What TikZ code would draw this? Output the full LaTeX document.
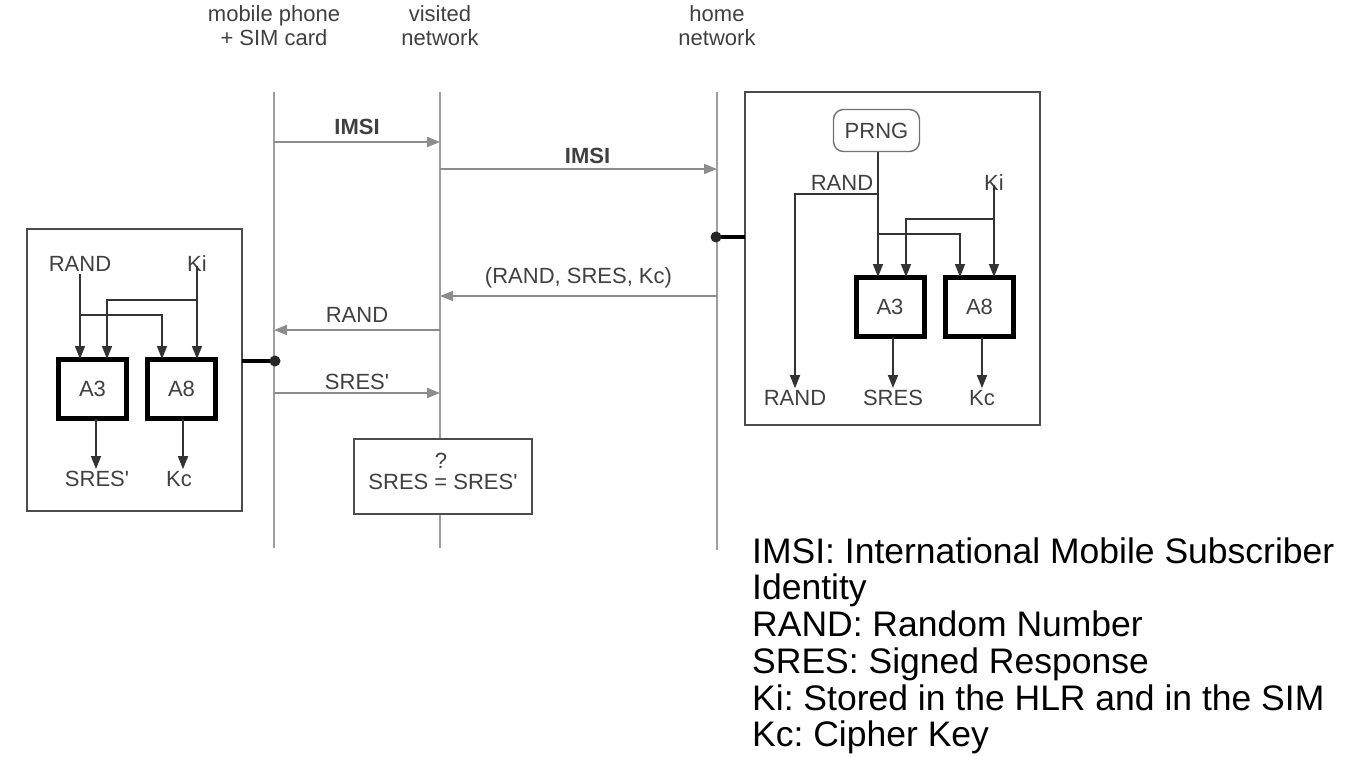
\documentclass[tikz,border=0pt]{standalone}
\usepackage{fontspec}
\setmainfont{Liberation Sans}
\usetikzlibrary{arrows.meta,positioning}

\definecolor{lifegray}{gray}{0.62}
\definecolor{msggray}{gray}{0.55}
\definecolor{boxgray}{gray}{0.3}
\definecolor{txtgray}{gray}{0.25}

\tikzset{
  lbl/.style={font=\fontsize{22}{24}\selectfont, text=txtgray, inner sep=2pt},
  legend/.style={font=\fontsize{35.5}{36.7}\selectfont, text=black, anchor=base west, inner sep=0pt},
  life/.style={draw=lifegray, line width=2pt},
  msg/.style={draw=msggray, line width=2pt, -{Triangle[length=13pt,width=10pt]}},
  arr/.style={draw=black!80, line width=1.6pt, -{Triangle[length=13pt,width=10pt]}},
  algo/.style={draw=black, line width=5pt, minimum width=68pt, minimum height=59pt, lbl},
  frame/.style={draw=boxgray, line width=2.2pt},
  link/.style={draw=black, line width=4pt},
}

\begin{document}
\frenchspacing
\begin{tikzpicture}[x=1pt,y=-1pt]
  \useasboundingbox (0,0) rectangle (1350,757);

  %%%%% lifelines %%%%%
  \node[lbl, align=center] (mobT) at (274,26) {mobile phone\\+ SIM card};
  \node[lbl, align=center] (visT) at (440,26) {visited\\network};
  \node[lbl, align=center] (homT) at (717,26) {home\\network};

  \coordinate (mob) at (274,92);  \coordinate (mobE) at (274,548);
  \coordinate (vis) at (440,92);  \coordinate (visE) at (440,548);
  \coordinate (hom) at (717,92);  \coordinate (homE) at (717,550);
  \draw[life] (mob) -- (mobE);
  \draw[life] (vis) -- (visE);
  \draw[life] (hom) -- (homE);

  %%%%% messages %%%%%
  \coordinate (m1a) at (274,142); \coordinate (m1b) at (440,142);
  \coordinate (m2a) at (440,169); \coordinate (m2b) at (717,169);
  \coordinate (m3a) at (717,296); \coordinate (m3b) at (440,296);
  \coordinate (m4a) at (440,330); \coordinate (m4b) at (274,330);
  \coordinate (m5a) at (274,393); \coordinate (m5b) at (440,393);

  \draw[msg] (m1a) -- node[lbl, font=\fontsize{22}{24}\selectfont\bfseries, above=4pt] (imsi1) {IMSI} (m1b);
  \draw[msg] (m2a) -- node[lbl, font=\fontsize{22}{24}\selectfont\bfseries, above=2pt, xshift=9pt] (imsi2) {IMSI} (m2b);
  \draw[msg] (m3a) -- node[lbl, above=5pt] (triple) {(RAND, SRES, Kc)} (m3b);
  \draw[msg] (m4a) -- node[lbl, above=5pt] (rand) {RAND} (m4b);
  \draw[msg] (m5a) -- node[lbl, above=0pt] (sres) {SRES\textquotesingle} (m5b);

  \node[draw=boxgray, line width=2pt, fill=white, minimum width=178pt, minimum height=75pt, lbl,
        text height=32pt, text depth=5pt]
    (cmp) at (443,476) {SRES \ooalign{\hfil=\hfil\cr\hfil\raisebox{21pt}{?}\hfil\cr} SRES\textquotesingle};

  %%%%% mobile phone + SIM %%%%%
  \draw[frame] (27,229) rectangle (242,511);
  \node[lbl] (randL) at (80,264) {RAND};
  \node[lbl] (kiL) at (197,264) {Ki};
  \node[algo] (a3L) at (92.5,389) {A3};
  \node[algo] (a8L) at (181.5,389) {A8};

  \coordinate (a3Lin1) at ([xshift=-12.5pt, yshift=-2pt]a3L.north);
  \coordinate (a3Lin2) at ([xshift=14.5pt, yshift=-2pt]a3L.north);
  \coordinate (a8Lin1) at ([xshift=-19.5pt, yshift=-2pt]a8L.north);
  \coordinate (a8Lin2) at ([xshift=15.5pt, yshift=-2pt]a8L.north);
  \coordinate (rSplitL) at (80,315);
  \coordinate (kSplitL) at (197,300);

  \draw[arr] (randL.south) -- (a3Lin1);
  \draw[arr] (rSplitL) -| (a8Lin1);
  \draw[arr] ([yshift=8pt]kiL.south) -- (a8Lin2);
  \draw[arr] (kSplitL) -| (a3Lin2);

  \node[lbl] (sresL) at (97,479) {SRES\textquotesingle};
  \node[lbl] (kcL) at (179,479) {Kc};
  \draw[arr] ([xshift=3.5pt, yshift=2pt]a3L.south) -- ([xshift=3.5pt]a3L.south |- sresL.north);
  \draw[arr] ([xshift=1.5pt, yshift=2pt]a8L.south) -- ([xshift=1.5pt]a8L.south |- kcL.north);

  \coordinate (simR) at (242,361);
  \coordinate (simDot) at (275,361);
  \draw[link] (simR) -- (simDot);
  \fill[black!85] (simDot) circle (5.5);

  %%%%% home network (AuC) %%%%%
  \draw[frame] (745,92) rectangle (1040,425);
  \node[draw=black!55, line width=1.4pt, rounded corners=10pt, minimum width=86pt, minimum height=42pt, lbl]
    (prng) at (876.5,130.5) {PRNG};
  \node[lbl] (randH) at (842,183) {RAND};
  \node[lbl] (kiH) at (994,183) {Ki};
  \node[algo] (a3H) at (890,307) {A3};
  \node[algo] (a8H) at (979.5,307) {A8};

  \coordinate (a3Hin1) at ([xshift=-12pt, yshift=-2pt]a3H.north);
  \coordinate (a3Hin2) at ([xshift=16pt, yshift=-2pt]a3H.north);
  \coordinate (a8Hin1) at ([xshift=-19.5pt, yshift=-2pt]a8H.north);
  \coordinate (a8Hin2) at ([xshift=14.5pt, yshift=-2pt]a8H.north);
  \coordinate (rSplitH) at (878,194);
  \coordinate (rSplitH2) at (878,234);
  \coordinate (kSplitH) at (994,219);

  \node[lbl] (randOut) at (795,398) {RAND};
  \node[lbl] (sresH) at (893,398) {SRES};
  \node[lbl] (kcH) at (982,398) {Kc};

  \draw[arr] (prng.south -| a3Hin1) -- (a3Hin1);
  \draw[arr] (rSplitH) -| (randOut.north);
  \draw[arr] (rSplitH2) -| (a8Hin1);
  \draw[arr] ([yshift=8pt]kiH.south) -- (a8Hin2);
  \draw[arr] (kSplitH) -| (a3Hin2);
  \draw[arr] ([xshift=3pt, yshift=2pt]a3H.south) -- ([xshift=3pt]a3H.south |- sresH.north);
  \draw[arr] ([xshift=2.5pt, yshift=2pt]a8H.south) -- ([xshift=2.5pt]a8H.south |- kcH.north);

  \coordinate (aucL) at (745,237);
  \coordinate (homDot) at (716,237);
  \draw[link] (aucL) -- (homDot);
  \fill[black!85] (homDot) circle (5.5);

  %%%%% legend %%%%%
  \node[legend] (leg1) at (752,563) {IMSI: International Mobile Subscriber};
  \node[legend] (leg2) at (752,599) {Identity};
  \node[legend] (leg3) at (752,636) {RAND: Random Number};
  \node[legend] (leg4) at (752,673) {SRES: Signed Response};
  \node[legend] (leg5) at (752,710) {Ki: Stored in the HLR and in the SIM};
  \node[legend] (leg6) at (752,746) {Kc: Cipher Key};
\end{tikzpicture}
\end{document}
